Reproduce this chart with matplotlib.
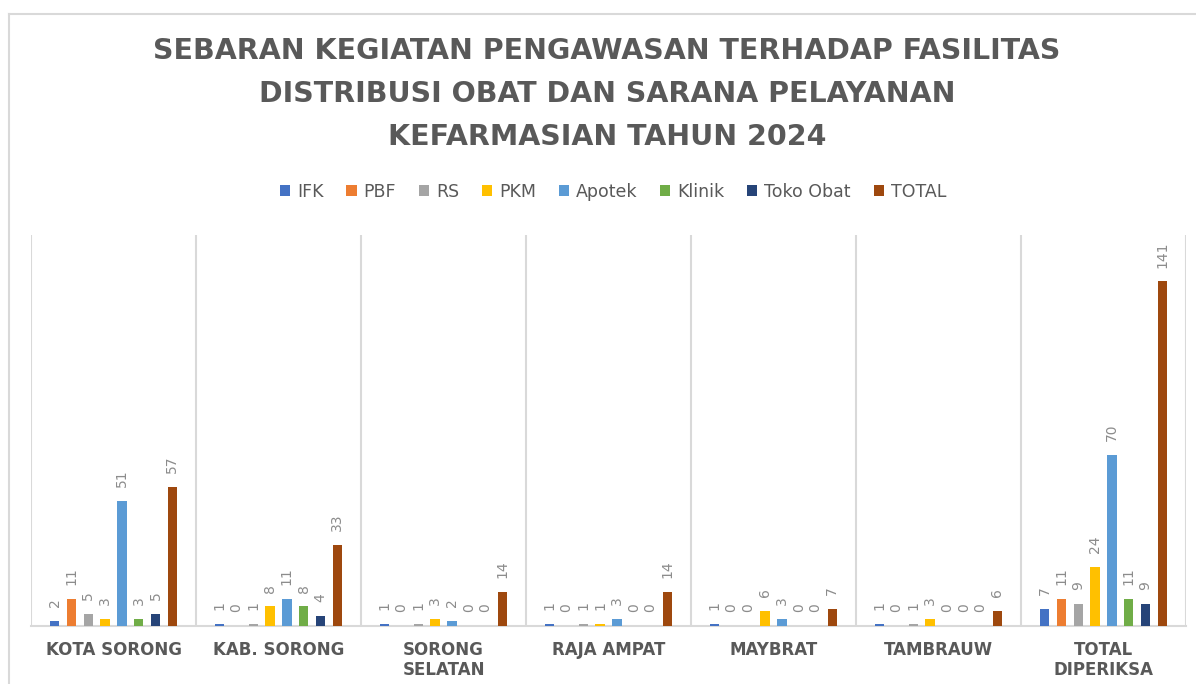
import numpy as np
import matplotlib.pyplot as plt
from matplotlib.lines import Line2D

# data
kategori = ["KOTA SORONG", "KAB. SORONG", "SORONG\nSELATAN", "RAJA AMPAT",
            "MAYBRAT", "TAMBRAUW", "TOTAL\nDIPERIKSA"]
ifk = [2, 1, 1, 1, 1, 1, 7]
pbf = [11, 0, 0, 0, 0, 0, 11]
rs = [5, 1, 1, 1, 0, 1, 9]
pkm = [3, 8, 3, 1, 6, 3, 24]
apotek = [51, 11, 2, 3, 3, 0, 70]
klinik = [3, 8, 0, 0, 0, 0, 11]
toko_obat = [5, 4, 0, 0, 0, 0, 9]
total = [57, 33, 14, 14, 7, 6, 141]

seri = ["IFK", "PBF", "RS", "PKM", "Apotek", "Klinik", "Toko Obat", "TOTAL"]
nilai = [ifk, pbf, rs, pkm, apotek, klinik, toko_obat, total]
warna = ["#4472C4", "#ED7D31", "#A5A5A5", "#FFC000",
         "#5B9BD5", "#70AD47", "#264478", "#9E480E"]

teks = "#595959"
garis = "#d9d9d9"

fig = plt.figure(figsize=(11.96, 6.84), dpi=100)
ax = fig.add_axes([31/1196, 1 - 626/684, (1186 - 31)/1196, (626 - 235)/684])

x = np.arange(len(kategori))
step = 0.1017
lebar = 0.057
for i, (nama, val, c) in enumerate(zip(seri, nilai, warna)):
    pos = x + (i - 3.5) * step
    bars = ax.bar(pos, val, width=lebar, color=c, label=nama, zorder=3)
    for b, v in zip(bars, val):
        ax.annotate(str(v), (b.get_x() + b.get_width()/2, v),
                    xytext=(0, 10), textcoords="offset points",
                    rotation=90, ha="center", va="bottom",
                    fontsize=10, color="#8c8c8c")

ax.set_xlim(-0.5, len(kategori) - 0.5)
ax.set_ylim(0, 160)
ax.set_yticks([])
ax.set_xticks(x)
ax.set_xticklabels(kategori, fontsize=12, fontweight="bold", color=teks,
                   linespacing=1.15)
ax.tick_params(axis="x", length=0, pad=11)
ax.set_xticks(np.arange(len(kategori) + 1) - 0.5, minor=True)
ax.tick_params(axis="x", which="minor", length=0)
ax.grid(which="minor", axis="x", color=garis, linewidth=1.5, zorder=0)
for s in ["top", "right", "left"]:
    ax.spines[s].set_visible(False)
ax.spines["bottom"].set_color(garis)
ax.spines["bottom"].set_linewidth(1.5)

# judul
judul = ["SEBARAN KEGIATAN PENGAWASAN TERHADAP FASILITAS",
         "DISTRIBUSI OBAT DAN SARANA PELAYANAN",
         "KEFARMASIAN TAHUN 2024"]
for k, baris in enumerate(judul):
    fig.text(607/1196, 1 - (51 + 43*k)/684, baris, ha="center", va="center",
             fontsize=20.5, fontweight="bold", color=teks)

# legenda
fig.legend(loc="center", bbox_to_anchor=(613/1196, 1 - 192/684), ncol=8,
           frameon=False, fontsize=12.5, labelcolor=teks,
           handlelength=0.6, handleheight=0.6, handletextpad=0.4,
           columnspacing=1.3)

# bingkai
fig.add_artist(Line2D([9/1196, 1], [1 - 14/684, 1 - 14/684],
                      transform=fig.transFigure, color=garis, linewidth=1.5))
fig.add_artist(Line2D([9/1196, 9/1196], [0, 1 - 14/684],
                      transform=fig.transFigure, color=garis, linewidth=1.5))

fig.savefig("out.png", dpi=100)
